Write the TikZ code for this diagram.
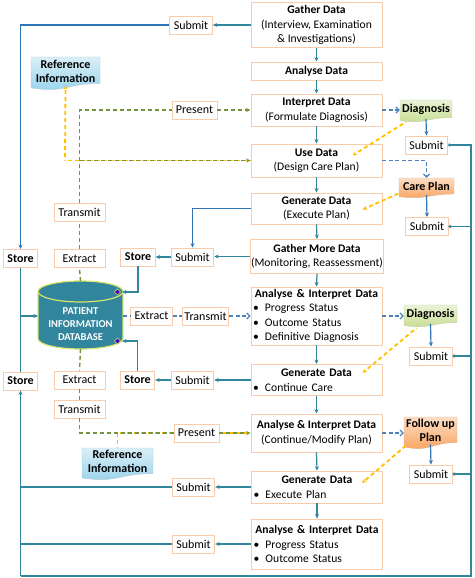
\documentclass[tikz,border=0pt]{standalone}
\usepackage{fontspec}
\setmainfont{Carlito}
\usetikzlibrary{arrows.meta,calc,backgrounds}
\definecolor{boxline}{RGB}{248,203,173}
\definecolor{flowteal}{RGB}{49,133,156}
\definecolor{flowblue}{RGB}{46,117,182}
\definecolor{dashblue}{RGB}{79,129,189}
\definecolor{olivedash}{RGB}{118,146,60}
\definecolor{amber}{RGB}{255,192,0}
\definecolor{notegreen}{RGB}{196,220,140}
\definecolor{noteorange}{RGB}{248,160,90}
\definecolor{noteblue}{RGB}{150,210,235}
\definecolor{dbfill}{RGB}{49,133,156}
\definecolor{dbedge}{RGB}{215,228,110}
\tikzset{
  mainbox/.style={draw=boxline, fill=white, line width=0.9pt, minimum width=131pt,
    inner xsep=2pt, inner ysep=1.5pt, align=center, font=\fontsize{11.6}{14.5}\selectfont},
  listbox/.style={mainbox, text width=127pt, align=left},
  tagbox/.style={draw=boxline, fill=white, line width=0.9pt, minimum height=18pt,
    inner xsep=4pt, inner ysep=1pt, font=\fontsize{12}{14}\selectfont},
  storebox/.style={tagbox, font=\fontsize{12}{14}\selectfont\bfseries},
  colbox/.style={tagbox, minimum width=51pt},
  notetext/.style={inner sep=1pt, align=center, font=\fontsize{12}{14}\selectfont\bfseries},
  arrowed/.style={-{Stealth[length=4.5pt,width=4pt]}},
  wire/.style={flowteal, line width=1.2pt},
  flow/.style={wire, arrowed},
  flowb/.style={flow, draw=flowblue},
  hintline/.style={dashblue, line width=1.2pt, dash pattern=on 4pt off 2.5pt},
  hint/.style={hintline, -{Straight Barb[length=3pt,width=6pt]}},
  olv/.style={olivedash, line width=1.4pt, dash pattern=on 4pt off 3pt},
  amb/.style={draw=amber, line width=1.8pt, dash pattern=on 4pt off 3pt, dash phase=3.5pt}
}
\newcommand{\bitem}[1]{\makebox[12pt][l]{\textbullet}#1}
\newcommand{\drawnote}[7]{
  \pgfmathsetmacro{\notehgt}{#5-#3}
  \pgfmathsetmacro{\notemid}{(#2+#4)/2}
  \shadedraw[top color=#6!35, bottom color=#6, draw=#6!70!black!50, line width=0.4pt]
    (#2,#3) -- (#4,#3) -- (#4,#3+0.8*\notehgt)
    .. controls (\notemid,#3+0.8*\notehgt) and (\notemid,#3+1.107*\notehgt) .. (#2,#3+0.934*\notehgt) -- cycle;
  \node[notetext, minimum width=#4-#2, minimum height=0.85*\notehgt] (#1) at (\notemid,#3+0.425*\notehgt) {#7};
}
\begin{document}
\begin{tikzpicture}[x=1pt,y=-1pt]
  \useasboundingbox (0,0) rectangle (474,578);
  %% main column
  \node[mainbox, minimum height=45pt] (gd) at (316.5,25) {\textbf{Gather Data}\\(Interview, Examination\\\& Investigations)};
  \node[mainbox, minimum height=18pt] (ad) at (316.5,71) {\textbf{Analyse Data}};
  \node[mainbox, minimum height=32pt] (id) at (316.5,110) {\textbf{Interpret Data}\\(Formulate Diagnosis)};
  \node[mainbox, minimum height=33pt] (ud) at (316.5,160.5) {\textbf{Use Data}\\(Design Care Plan)};
  \node[mainbox, minimum height=31pt] (gen1) at (316.5,208.5) {\textbf{Generate Data}\\(Execute Plan)};
  \node[mainbox, minimum height=34pt, inner xsep=1pt] (gmd) at (317,256.5) {\textbf{Gather More Data}\\(Monitoring, Reassessment)};
  \node[listbox, minimum height=58pt] (ai1) at (316.5,316) {\hfil\textbf{Analyse \& Interpret Data}\hfil\\\bitem{Progress Status}\\\bitem{Outcome Status}\\\bitem{Definitive Diagnosis}};
  \node[listbox, minimum height=31pt] (gen2) at (316.5,380) {\hfil\textbf{Generate Data}\hfil\\\bitem{Continue Care}};
  \node[mainbox, minimum height=38pt] (ai2) at (316.5,433) {\textbf{Analyse \& Interpret Data}\\(Continue/Modify Plan)};
  \node[listbox, minimum height=32pt] (gen3) at (317,487) {\hfil\textbf{Generate Data}\hfil\\\bitem{Execute Plan}};
  \node[listbox, minimum height=50pt] (ai3) at (317,544) {\hfil\textbf{Analyse \& Interpret Data}\hfil\\\bitem{Progress Status}\\\bitem{Outcome Status}};

  %% notes on the right
  \drawnote{dg1}{400}{100}{452}{122}{notegreen}{Diagnosis}
  \node[tagbox] (sb1) at (426.5,145) {Submit};
  \drawnote{cp}{399}{178}{454}{198}{noteorange}{Care Plan}
  \node[tagbox] (sb2) at (427,226.5) {Submit};
  \drawnote{dg2}{404}{305}{457}{327}{notegreen}{Diagnosis}
  \node[tagbox] (sb3) at (431,356) {Submit};
  \drawnote{fu}{404}{417}{457}{449}{noteorange}{Follow up\\Plan}
  \node[tagbox] (sb4) at (431,474) {Submit};

  %% left side
  \node[tagbox] (sbT) at (191,25) {Submit};
  \drawnote{ri1}{31}{57}{100}{90}{noteblue}{Reference\\Information}
  \node[tagbox] (prs1) at (194.5,110) {Present};
  \node[colbox] (tr1) at (79.5,212) {Transmit};
  \node[colbox] (ex1) at (79.5,258.5) {Extract};
  \node[storebox] (st1) at (20.5,258.5) {Store};
  \node[storebox] (st2) at (138,257) {Store};
  \node[tagbox] (sb5) at (192.5,257) {Submit};
  \node[tagbox] (ex2) at (151.5,316) {Extract};
  \node[tagbox, inner xsep=2pt] (tr2) at (205.5,316) {Transmit};
  \node[storebox] (st3) at (20.5,381) {Store};
  \node[colbox] (ex3) at (79.5,380) {Extract};
  \node[storebox] (st4) at (137.5,380) {Store};
  \node[tagbox] (sb6) at (192.5,380) {Submit};
  \node[colbox] (tr3) at (79.5,409) {Transmit};
  \node[tagbox] (prs2) at (196.5,433) {Present};
  \drawnote{ri2}{82}{448}{153}{480}{noteblue}{Reference\\Information}
  \node[tagbox] (sb7) at (193.5,487) {Submit};
  \node[tagbox] (sb8) at (193.5,544) {Submit};

  %% database
  \fill[dbfill] (38,291.5) rectangle (123,338.5);
  \fill[dbfill] (80.5,338.5) ellipse [x radius=42.5pt, y radius=10.5pt];
  \draw[dbedge, line width=1.2pt] (38,291.5) -- (38,338.5) arc [start angle=180, end angle=360, x radius=42.5pt, y radius=10.5pt] -- (123,291.5);
  \draw[dbedge, fill=dbfill, line width=1.2pt] (80.5,291.5) ellipse [x radius=42.5pt, y radius=10.5pt];
  \node[text=white, align=center, font=\fontsize{10.5}{13}\selectfont\bfseries] (db) at (80.5,324) {PATIENT\\INFORMATION\\DATABASE};
  \coordinate (dbN) at (80.5,281);
  \coordinate (dbS) at (80.5,349);
  \coordinate (dbW) at (38,316);
  \coordinate (dbE) at (123,316);
  \coordinate (dbNE) at (122,292);
  \coordinate (dbSE) at (122,341);
  \coordinate (busNE) at (471,145);
  \coordinate (busSE) at (471,576);
  \coordinate (busSW) at (20.5,576);
  \coordinate (refbend) at (65,160.5);

  %% main flow
  \foreach \a/\b in {gd/ad,ad/id,id/ud,ud/gen1,gen1/gmd,gmd/ai1,ai1/gen2,gen2/ai2,ai2/gen3,gen3/ai3}
    \draw[flow] (\a.south) -- (\b.north);

  %% notes
  \draw[hint] (id.east) -- (id.east -| dg1.west);
  \draw[flowb] (dg1.south) -- (sb1.north);
  \draw[hint] (ud.east) -| (cp.north);
  \draw[flowb] (cp.south) -- (sb2.north);
  \draw[hint] (ai1.east) -- (ai1.east -| dg2.west);
  \draw[flowb] (dg2.south) -- (sb3.north);
  \draw[hint] (ai2.east) -- (ai2.east -| fu.west);
  \draw[flowb] (fu.south) -- (sb4.north);
  \draw[amb, arrowed] ($(dg1.south)+(-20,3)$) -- ($(ud.center)+(36,-5)$);
  \draw[amb, arrowed] ($(cp.south)+(-25,-3)$) -- ($(gen1.center)+(46,1)$);
  \draw[amb, arrowed] ($(dg2.south)+(-14,4)$) -- ($(gen2.center)+(46,-7)$);
  \draw[amb, arrowed] ($(fu.south)+(-22,-1)$) -- ($(gen3.center)+(45,-4)$);

  %% right and bottom bus
  \draw[wire, {Circle[length=3pt]}-] (sb1.east) -- (busNE) -- (busSE) -- (busSW);
  \draw[flow] (busSW) -- (st3.south);
  \foreach \s in {sb2,sb3,sb4}
    \draw[wire, {Circle[length=3pt]}-] (\s.east) -- (\s.east -| busNE);
  \draw[flow] (gen3.west) -- (gen3.west -| sb7.east);
  \draw[flow] (ai3.west) -- (ai3.west -| sb8.east);
  \draw[wire] (sb7.west) -- (sb7.west -| busSW);
  \draw[wire] (sb8.west) -- (sb8.west -| busSW);

  %% left bus
  \draw[flow] (gd.west) -- (sbT.east);
  \draw[flowb] (sbT.west) -| (st1.north);
  \draw[wire] (st1.south) -- (st3.north);
  \draw[flow] (st1.south |- dbW) -- (dbW);

  %% store loops
  \draw[flowb] (gen1.west) -| (sb5.north);
  \draw[flow] (gmd.west) -- (gmd.west -| sb5.east);
  \draw[flow] (sb5.west) -- (st2.east);
  \draw[flow] (st2.south) |- (dbNE);
  \draw[flow] (gen2.west) -- (sb6.east);
  \draw[flow] (sb6.west) -- (st4.east);
  \draw[flow] (st4.north) |- (dbSE);
  \foreach \c in {dbNE,dbSE}
    \filldraw[fill=violet!55!blue, draw=dbedge, line width=0.5pt] ($(\c)+(-7.5,0)$) -- ++(3,-3) -- ++(3,3) -- ++(-3,3) -- cycle;

  %% extract and transmit
  \draw[hintline] (dbE) -- (ex2.west);
  \draw[hintline] (ex2.east) -- (tr2.west);
  \draw[hint] (tr2.east) -- (ai1.west);
  \draw[amb] (ud.west) -- (refbend);
  \draw[amb, arrowed] (refbend) -- (ri1.south);
  \draw[olv] (dbN) -- (ex1.south);
  \draw[olv] (ex1.north) -- (tr1.south);
  \draw[olv] (tr1.north) |- (prs1.west);
  \draw[olv, arrowed] (prs1.east) -- (prs1.east -| id.west);
  \draw[olv, arrowed] (tr1.north |- ud.west) -- (ud.west);
  \draw[olv] (dbS) -- (ex3.north);
  \draw[olv] (ex3.south) -- (tr3.north);
  \draw[amb] (ri2.north) |- (prs2.west);
  \draw[amb] (prs2.east) -- (prs2.east -| ai2.west);
  \draw[olv] (tr3.south) |- (prs2.west);
  \draw[olv, arrowed] (prs2.east) -- (prs2.east -| ai2.west);
\end{tikzpicture}
\end{document}
